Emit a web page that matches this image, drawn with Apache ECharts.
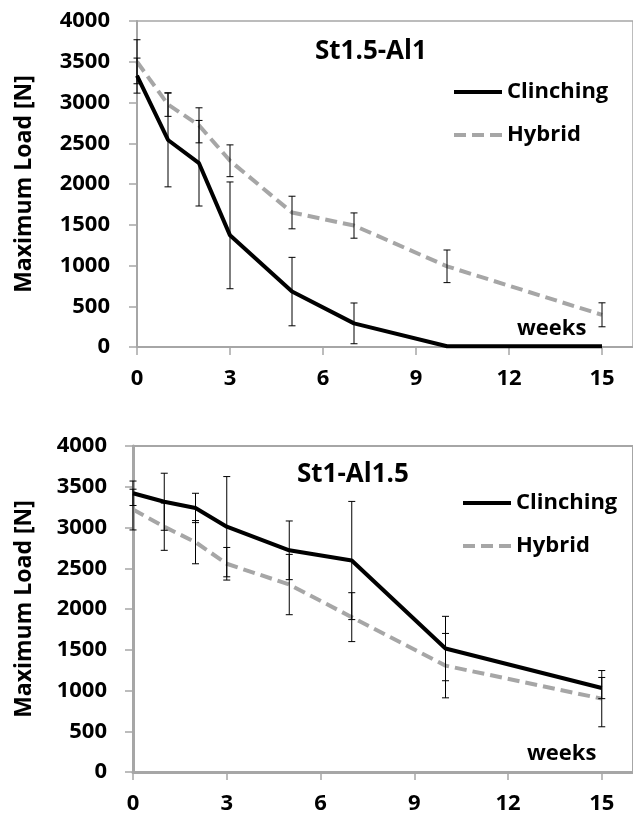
<!DOCTYPE html>
<html>
<head>
<meta charset="utf-8">
<script src="https://cdn.jsdelivr.net/npm/echarts@6/dist/echarts.min.js"></script>
<style>html,body{margin:0;padding:0;background:#fff}</style>
</head>
<body>
<div id="main" style="width:633px;height:822px;"></div>
<script>
// ageing time (weeks)
var weeks = [0, 1, 2, 3, 5, 7, 10, 15]
var xTicks = [0, 3, 6, 9, 12, 15]
var yTicks = [0, 500, 1000, 1500, 2000, 2500, 3000, 3500, 4000]

// St1.5-Al1
var clinchA = [3330, 2540, 2255, 1370, 680, 290, 10, 10]
var clinchAErr = [215, 575, 525, 655, 420, 250, 0, 0]
var hybridA = [3500, 2975, 2720, 2285, 1650, 1490, 990, 395]
var hybridAErr = [270, 145, 215, 195, 200, 155, 200, 147]

// St1-Al1.5
var clinchB = [3420, 3316, 3240, 3010, 2720, 2595, 1515, 1030]
var clinchBErr = [150, 350, 180, 615, 360, 725, 395, 130]
var hybridB = [3220, 3010, 2820, 2555, 2300, 1900, 1305, 900]
var hybridBErr = [250, 290, 265, 200, 370, 300, 395, 345]

var FONT = 'Open Sans'
var AXIS_GREY = '#a6a6a6'

function errorBars(vals, errs, idx) {
  return {
    type: 'custom',
    xAxisIndex: idx,
    yAxisIndex: idx,
    z: 5,
    silent: true,
    data: weeks.map(function (w, i) { return [w, vals[i] - errs[i], vals[i] + errs[i]] }),
    renderItem: function (params, api) {
      if (api.value(2) - api.value(1) <= 0) return null
      var lo = api.coord([api.value(0), api.value(1)])
      var hi = api.coord([api.value(0), api.value(2)])
      var c = 3.5
      var s = { stroke: '#000', lineWidth: 1 }
      return {
        type: 'group',
        children: [
          { type: 'line', shape: { x1: lo[0], y1: lo[1], x2: hi[0], y2: hi[1] }, style: s },
          { type: 'line', shape: { x1: lo[0] - c, y1: lo[1], x2: lo[0] + c, y2: lo[1] }, style: s },
          { type: 'line', shape: { x1: hi[0] - c, y1: hi[1], x2: hi[0] + c, y2: hi[1] }, style: s }
        ]
      }
    }
  }
}

function lineSeries(name, vals, idx) {
  var hybrid = name === 'Hybrid'
  return {
    name: name,
    type: 'line',
    xAxisIndex: idx,
    yAxisIndex: idx,
    symbol: 'none',
    z: 3,
    data: weeks.map(function (w, i) { return [w, vals[i]] }),
    lineStyle: {
      color: hybrid ? '#a6a6a6' : '#000',
      width: 4,
      type: hybrid ? [12, 6] : 'solid'
    },
    itemStyle: { color: hybrid ? '#a6a6a6' : '#000' }
  }
}

function xAxis(idx, w) {
  return {
    type: 'value',
    gridIndex: idx,
    min: xTicks[0],
    max: 16,
    interval: xTicks[1] - xTicks[0],
    splitLine: { show: false },
    axisLine: { lineStyle: { color: AXIS_GREY, width: w } },
    axisTick: { length: 8, lineStyle: { color: AXIS_GREY, width: 1.5 } },
    axisLabel: { showMaxLabel: false, margin: 21, color: '#000', fontFamily: FONT, fontWeight: 'bold', fontSize: 22 }
  }
}

function yAxis(idx, w, margin, gap) {
  return {
    type: 'value',
    gridIndex: idx,
    min: yTicks[0],
    max: yTicks[yTicks.length - 1],
    interval: yTicks[1] - yTicks[0],
    name: 'Maximum Load [N]',
    nameLocation: 'middle',
    nameGap: gap,
    nameTextStyle: { color: '#000', fontFamily: FONT, fontWeight: 'bold', fontSize: 23 },
    splitLine: { show: false },
    axisLine: { show: true, lineStyle: { color: AXIS_GREY, width: w } },
    axisTick: { show: true, length: 8, lineStyle: { color: AXIS_GREY, width: 1.5 } },
    axisLabel: {
      margin: margin, color: '#000', fontFamily: FONT, fontWeight: 'bold', fontSize: 22,
      formatter: function (v) { return String(v) }
    }
  }
}

function legend(left, top) {
  return {
    orient: 'vertical',
    left: left,
    top: top,
    padding: 0,
    itemWidth: 48,
    itemHeight: 14,
    itemGap: 21,
    data: ['Clinching', 'Hybrid'],
    lineStyle: { width: 4 },
    itemStyle: { opacity: 0 },
    textStyle: { color: '#000', fontFamily: FONT, fontWeight: 'bold', fontSize: 22 },
    selectedMode: false
  }
}

var chart = echarts.init(document.getElementById('main'), null, { renderer: 'canvas' })
chart.setOption({
  backgroundColor: '#fff',
  animation: false,
  title: [
    { text: 'St1.5-Al1', left: 310, top: 34, textStyle: { fontFamily: FONT, fontWeight: 'bold', fontSize: 26, color: '#000' } },
    { text: 'St1-Al1.5', left: 292, top: 457, textStyle: { fontFamily: FONT, fontWeight: 'bold', fontSize: 26, color: '#000' } },
    { text: 'weeks', left: 512, top: 313, textStyle: { fontFamily: FONT, fontWeight: 'bold', fontSize: 22, color: '#000' } },
    { text: 'weeks', left: 522, top: 738, textStyle: { fontFamily: FONT, fontWeight: 'bold', fontSize: 22, color: '#000' } }
  ],
  legend: [legend(452, 81), legend(461, 492)],
  grid: [
    { left: 137, top: 21, width: 498, height: 326, show: true, borderColor: AXIS_GREY, borderWidth: 1.5 },
    { left: 133, top: 446, width: 504, height: 326, show: true, borderColor: AXIS_GREY, borderWidth: 2 }
  ],
  xAxis: [xAxis(0, 2), xAxis(1, 3)],
  yAxis: [yAxis(0, 2, 27, 101), yAxis(1, 3, 26, 97)],
  series: [
    lineSeries('Clinching', clinchA, 0),
    lineSeries('Hybrid', hybridA, 0),
    errorBars(clinchA, clinchAErr, 0),
    errorBars(hybridA, hybridAErr, 0),
    lineSeries('Clinching', clinchB, 1),
    lineSeries('Hybrid', hybridB, 1),
    errorBars(clinchB, clinchBErr, 1),
    errorBars(hybridB, hybridBErr, 1)
  ]
})
</script>
</body>
</html>
